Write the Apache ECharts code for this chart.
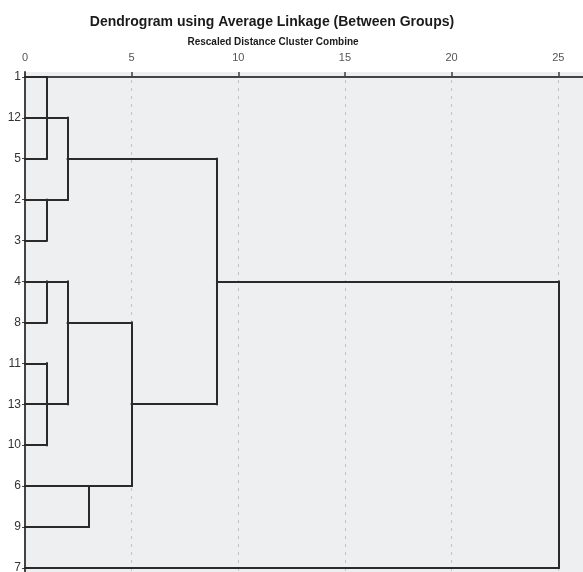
<!DOCTYPE html>
<html>
<head>
<meta charset="utf-8">
<script src="https://cdn.jsdelivr.net/npm/echarts@6/dist/echarts.min.js"></script>
<style>
  html, body { margin: 0; padding: 0; background: #fff; }
  #chart { width: 583px; height: 572px; }
</style>
</head>
<body>
<div id="chart"></div>
<script>
// 叶子节点（自上而下）
const leaves = ['1', '12', '5', '2', '3', '4', '8', '11', '13', '10', '6', '9', '7'];
// x 轴刻度
const xTicks = [0, 5, 10, 15, 20, 25];
// 水平线段: [行, 起点距离, 终点距离]
const hSegs = [
  ['1', 0, 1], ['12', 0, 2], ['5', 0, 1], ['5', 2, 9], ['2', 0, 2], ['3', 0, 1],
  ['4', 0, 2], ['4', 9, 25], ['8', 0, 1], ['8', 2, 5], ['11', 0, 1],
  ['13', 0, 2], ['13', 5, 9], ['10', 0, 1], ['6', 0, 5], ['9', 0, 3], ['7', 0, 25]
];
// 竖直线段: [合并距离, 起始行, 结束行]
const vSegs = [
  [1, '1', '5'], [2, '12', '2'], [1, '2', '3'], [9, '5', '13'], [1, '4', '8'],
  [2, '4', '13'], [5, '8', '6'], [1, '11', '10'], [3, '6', '9'], [25, '4', '7']
];

const row = (name) => leaves.indexOf(name);
const segs = [
  ...hSegs.map(([r, a, b]) => ({ coords: [[a, row(r)], [b, row(r)]] })),
  ...vSegs.map(([d, r0, r1]) => ({ coords: [[d, row(r0)], [d, row(r1)]] }))
];

const chart = echarts.init(document.getElementById('chart'), null, { width: 583, height: 572 });
const option = {
  backgroundColor: '#fff',
  animation: false,
  textStyle: { fontFamily: 'Liberation Sans, Arial, sans-serif' },
  title: [
    {
      text: 'Dendrogram using Average Linkage (Between Groups)',
      left: 272, top: 15, padding: 0, textAlign: 'center',
      textStyle: { fontSize: 14, fontWeight: 'bold', color: '#1a1a1a' }
    },
    {
      text: 'Rescaled Distance Cluster Combine',
      left: 273, top: 37, padding: 0, textAlign: 'center',
      textStyle: { fontSize: 10, fontWeight: 'bold', color: '#1a1a1a' }
    }
  ],
  grid: {
    left: 25, right: 0, top: 72, bottom: 0,
    containLabel: false,
    outerBoundsMode: 'none',
    show: true, backgroundColor: '#eeeff1', borderWidth: 0
  },
  xAxis: {
    type: 'value',
    position: 'top',
    min: 0,
    max: 26.16,
    interval: 5,
    axisLine: { show: true, lineStyle: { color: '#444', width: 2 } },
    axisTick: { show: true, length: 5, lineStyle: { color: '#444', width: 1.5 } },
    axisLabel: {
      color: '#555', fontSize: 11, margin: 9, showMaxLabel: false,
      formatter: (v) => (xTicks.includes(v) ? String(v) : '')
    },
    splitLine: { show: true, lineStyle: { color: '#c4c4c4', type: [3, 5], width: 1 } }
  },
  yAxis: {
    type: 'value',
    inverse: true,
    min: -0.12,
    max: 12.1,
    axisLine: { show: true, onZero: false, lineStyle: { color: '#444', width: 2 } },
    axisTick: {
      show: true, length: 3, customValues: leaves.map((_, i) => i),
      lineStyle: { color: '#444', width: 1 }
    },
    axisLabel: {
      color: '#333', fontSize: 12, margin: 4,
      customValues: leaves.map((_, i) => i),
      formatter: (v) => leaves[Math.round(v)]
    },
    splitLine: { show: false }
  },
  series: [
    {
      type: 'lines',
      coordinateSystem: 'cartesian2d',
      polyline: false,
      silent: true,
      lineStyle: { color: '#2a2a2a', width: 2, opacity: 1, cap: 'square' },
      data: segs
    }
  ]
};
chart.setOption(option);
</script>
</body>
</html>
